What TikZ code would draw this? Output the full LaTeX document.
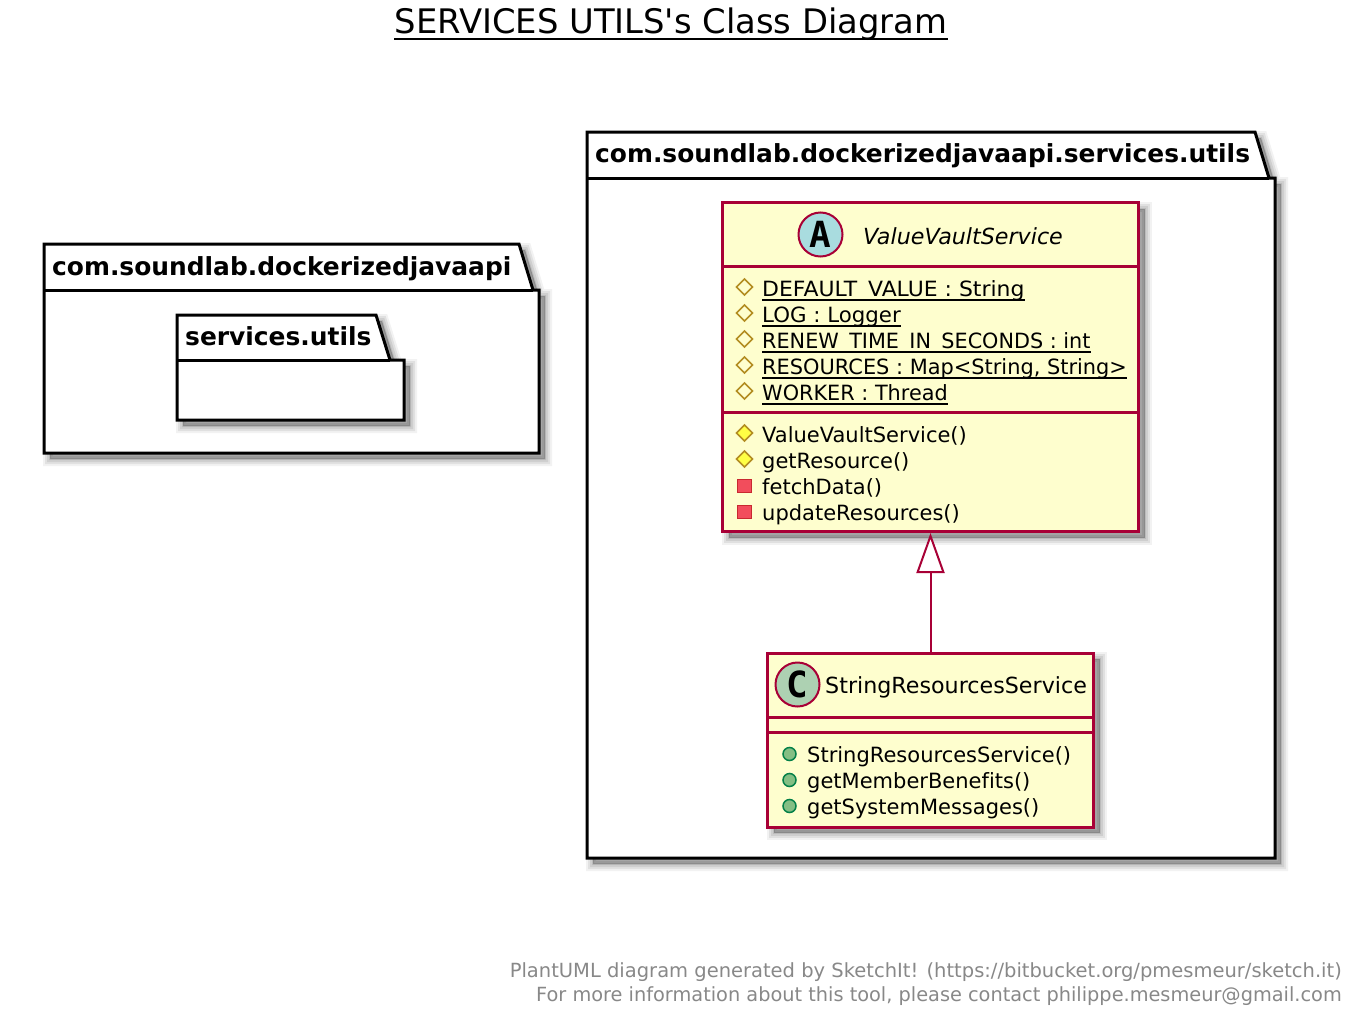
\documentclass[tikz,border=0pt]{standalone}
\usepackage{fontspec}
\setmainfont[Ligatures=NoCommon]{DejaVu Sans}
\newfontfamily\spotfont{DejaVu Sans Mono}
\usetikzlibrary{arrows.meta}
\definecolor{umlred}{HTML}{A80036}
\definecolor{umlfill}{HTML}{FEFECE}
\definecolor{footgray}{HTML}{888888}
\tikzset{
  softshadow/.style={
    preaction={draw=black,fill=black,draw opacity=.05,fill opacity=.05,line width=14pt,transform canvas={shift={(6pt,-6pt)}}},
    preaction={draw=black,fill=black,draw opacity=.07,fill opacity=.07,line width=10pt,transform canvas={shift={(6pt,-6pt)}}},
    preaction={draw=black,fill=black,draw opacity=.08,fill opacity=.08,line width=6pt,transform canvas={shift={(6pt,-6pt)}}},
    preaction={draw=black,fill=black,draw opacity=.09,fill opacity=.09,line width=2pt,transform canvas={shift={(6pt,-6pt)}}}},
  pkg/.style={draw=black,fill=white,line width=3pt,line join=miter,softshadow},
  pkglabel/.style={anchor=base west,inner sep=0pt,font=\fontsize{24.9}{25}\selectfont\bfseries},
  classbox/.style={draw=umlred,fill=umlfill,line width=3pt,softshadow,inner sep=0pt},
  sep/.style={draw=umlred,line width=3pt},
  member/.style={anchor=base west,inner sep=0pt,font=\fontsize{21}{21}\selectfont},
  classname/.style={anchor=base west,inner sep=0pt,font=\fontsize{22.2}{22}\selectfont},
  spot/.style={circle,draw=umlred,line width=2pt,minimum size=44pt,inner sep=0pt,font=\spotfont\fontsize{36}{36}\selectfont\bfseries},
  foot/.style={anchor=base east,inner sep=0pt,text=footgray,font=\fontsize{19.5}{20}\selectfont},
  ext/.style={draw=umlred,line width=2pt,-{Triangle[open,length=40pt,width=28pt,fill=white]}}
}
\begin{document}
\begin{tikzpicture}[x=1pt,y=-1pt]
\useasboundingbox (0,0) rectangle (1364,1025);

% title
\node[anchor=base,inner sep=0pt,font=\fontsize{33.8}{34}\selectfont] (title) at (671,34) {SERVICES UTILS\textquotesingle s Class Diagram};
\draw[line width=2pt] ([yshift=-5pt]title.base west) -- ([yshift=-5pt]title.base east);

% packages
\draw[pkg] (44,290) -- (44,244) -- (519,244) -- (533,290) -- (539,290) -- (539,453) -- (44,453) -- cycle;
\draw[line width=3pt] (44,290) -- (533,290);
\node[pkglabel] (apilabel) at (52,275.5) {com.soundlab.dockerizedjavaapi};

\draw[pkg] (177,360) -- (177,315) -- (376,315) -- (390,360) -- (404,360) -- (404,420) -- (177,420) -- cycle;
\draw[line width=3pt] (177,360) -- (390,360);
\node[pkglabel] (utilslabel) at (185,345.5) {services.utils};

\draw[pkg] (587,178) -- (587,132) -- (1255,132) -- (1269,178) -- (1275,178) -- (1275,858) -- (587,858) -- cycle;
\draw[line width=3pt] (587,178) -- (1269,178);
\node[pkglabel] (fulllabel) at (595,162.5) {com.soundlab.dockerizedjavaapi.services.utils};

% classes
\node[classbox,minimum width=416pt,minimum height=329pt] (value) at (930.5,367) {};
\node[classbox,minimum width=326pt,minimum height=174pt] (string) at (930.5,740) {};
\draw[sep] (value.west |- 0,266.5) -- (value.east |- 0,266.5);
\draw[sep] (value.west |- 0,412.5) -- (value.east |- 0,412.5);
\draw[sep] (string.west |- 0,717) -- (string.east |- 0,717);
\draw[sep] (string.west |- 0,732.5) -- (string.east |- 0,732.5);
\draw[ext] (string.north) -- (value.south);

% class headers
\node[spot,fill={rgb,255:red,169;green,220;blue,223}] (spota) at (820.5,234.5) {A};
\node[spot,fill={rgb,255:red,173;green,209;blue,178}] (spotc) at (797.5,684.5) {C};
\node[classname,font=\fontsize{22.2}{22}\selectfont\itshape] (valuename) at (863,244) {ValueVaultService};
\node[classname] (stringname) at (825,693) {StringResourcesService};

% fields
\foreach \name/\sx/\txt [count=\i from 0] in {fa/1.044/DEFAULT\_VALUE : String,fb/1.015/LOG : Logger,fc/.988/RENEW\_TIME\_IN\_SECONDS : int,fd/.995/{RESOURCES : Map<String, String>},fe/.99/WORKER : Thread}{
  \node[member,xscale=\sx] (\name) at (762,296+26*\i) {\txt};
  \draw[line width=1.5pt] ([yshift=-4pt]\name.base west) -- ([yshift=-4pt]\name.base east);
  \draw[draw={rgb,255:red,179;green,141;blue,34},line width=1.5pt] (744.5,279+26*\i) -- (752.5,287+26*\i) -- (744.5,295+26*\i) -- (736.5,287+26*\i) -- cycle;
}

% methods
\foreach \name/\txt [count=\i from 0] in {ma/ValueVaultService(),mb/getResource()}{
  \node[member] (\name) at (762,442+26*\i) {\txt};
  \draw[draw={rgb,255:red,179;green,141;blue,34},fill={rgb,255:red,255;green,255;blue,68},line width=1.5pt] (744.5,425+26*\i) -- (752.5,433+26*\i) -- (744.5,441+26*\i) -- (736.5,433+26*\i) -- cycle;
}
\foreach \name/\txt [count=\i from 0] in {mc/fetchData(),md/updateResources()}{
  \node[member] (\name) at (762,494+26*\i) {\txt};
  \draw[draw={rgb,255:red,200;green,41;blue,48},fill={rgb,255:red,242;green,77;blue,92},line width=1pt] (737.5,479+26*\i) rectangle (751,492.5+26*\i);
}
\foreach \name/\txt [count=\i from 0] in {sa/StringResourcesService(),sb/getMemberBenefits(),sc/getSystemMessages()}{
  \node[member] (\name) at (807,762+26*\i) {\txt};
  \draw[draw={rgb,255:red,3;green,128;blue,72},fill={rgb,255:red,132;green,190;blue,132},line width=1.5pt] (789.5,754+26*\i) circle (6.5pt);
}

% footer
\node[foot] (footone) at (1342,977) {PlantUML diagram generated by SketchIt! (https://bitbucket.org/pmesmeur/sketch.it)};
\node[foot,xscale=.991] (foottwo) at (1342,1001) {For more information about this tool, please contact philippe.mesmeur@gmail.com};
\end{tikzpicture}
\end{document}
